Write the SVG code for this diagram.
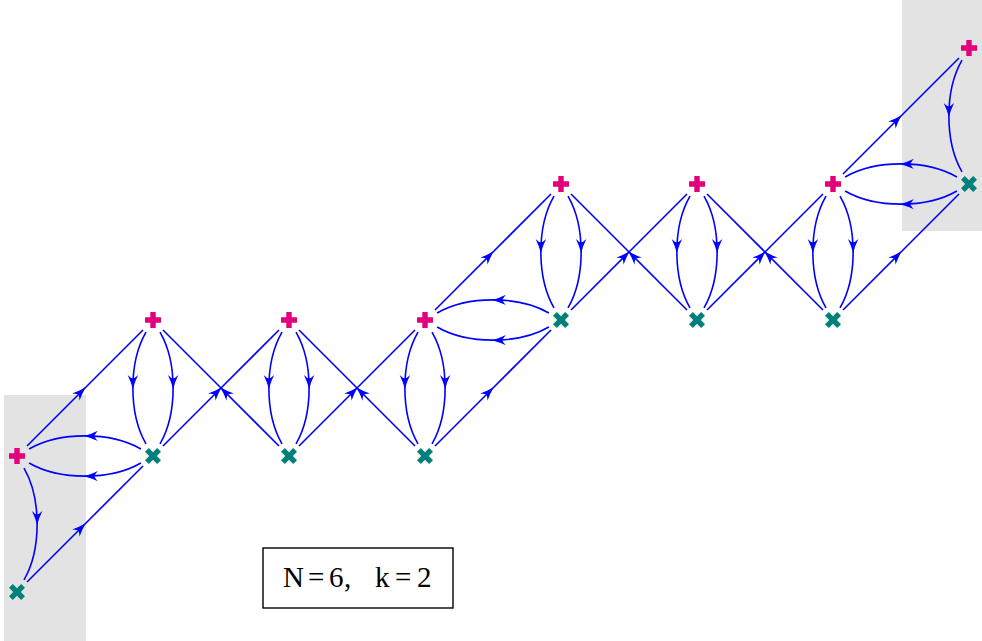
<svg xmlns="http://www.w3.org/2000/svg" xmlns:xlink="http://www.w3.org/1999/xlink" width="982" height="641" viewBox="0 0 982 641">
<style>
.bg{fill:#e3e3e3}
.e{fill:none;stroke:#0000ff;stroke-width:1.6;marker-mid:url(#ah)}
.plus{fill:#e2007d}
.cross{fill:#007f7b}
.box{fill:#fff;stroke:#000;stroke-width:1.4}
.lbl{font-family:"Liberation Serif","DejaVu Serif",serif;font-size:29px;fill:#000}
</style>
<defs>
<marker id="ah" markerUnits="userSpaceOnUse" markerWidth="18" markerHeight="14" viewBox="-15 -7 18 14" refX="0" refY="0" orient="auto" overflow="visible">
<path d="M1,0 Q-6.5,-2 -13,-5.2 Q-9.5,-1.4 -9.5,0 Q-9.5,1.4 -13,5.2 Q-6.5,2 1,0Z" fill="#0000ff"/>
</marker>
<path id="pl" d="M-2.7,-8H2.7V-2.7H8V2.7H2.7V8H-2.7V2.7H-8V-2.7H-2.7Z"/>
<path id="cr" d="M-2.7,-8.6H2.7V-2.7H8.6V2.7H2.7V8.6H-2.7V2.7H-8.6V-2.7H-2.7Z" transform="rotate(45)"/>
</defs>
<rect class="bg" x="4" y="395" width="82" height="246"/>
<rect class="bg" x="902" y="0" width="80" height="231"/>
<g id="connectors">
<path class="e" d="M146,332.1 c -8.75,15.15 -13.125,35.525 -13.125,55.9 c 0,20.375 4.375,40.75 13.125,55.9"/>
<path class="e" d="M282,332.1 c -8.75,15.15 -13.125,35.525 -13.125,55.9 c 0,20.375 4.375,40.75 13.125,55.9"/>
<path class="e" d="M418,332.1 c -8.75,15.15 -13.125,35.525 -13.125,55.9 c 0,20.375 4.375,40.75 13.125,55.9"/>
<path class="e" d="M554,196.1 c -8.75,15.15 -13.125,35.525 -13.125,55.9 c 0,20.375 4.375,40.75 13.125,55.9"/>
<path class="e" d="M690,196.1 c -8.75,15.15 -13.125,35.525 -13.125,55.9 c 0,20.375 4.375,40.75 13.125,55.9"/>
<path class="e" d="M826,196.1 c -8.75,15.15 -13.125,35.525 -13.125,55.9 c 0,20.375 4.375,40.75 13.125,55.9"/>
<path class="e" d="M962,60.1 c -8.75,15.15 -13.125,35.525 -13.125,55.9 c 0,20.375 4.375,40.75 13.125,55.9"/>
<path class="e" d="M160,332.1 c 8.75,15.15 13.125,35.525 13.125,55.9 c 0,20.375 -4.375,40.75 -13.125,55.9"/>
<path class="e" d="M296,332.1 c 8.75,15.15 13.125,35.525 13.125,55.9 c 0,20.375 -4.375,40.75 -13.125,55.9"/>
<path class="e" d="M432,332.1 c 8.75,15.15 13.125,35.525 13.125,55.9 c 0,20.375 -4.375,40.75 -13.125,55.9"/>
<path class="e" d="M568,196.1 c 8.75,15.15 13.125,35.525 13.125,55.9 c 0,20.375 -4.375,40.75 -13.125,55.9"/>
<path class="e" d="M704,196.1 c 8.75,15.15 13.125,35.525 13.125,55.9 c 0,20.375 -4.375,40.75 -13.125,55.9"/>
<path class="e" d="M840,196.1 c 8.75,15.15 13.125,35.525 13.125,55.9 c 0,20.375 -4.375,40.75 -13.125,55.9"/>
<path class="e" d="M24,468.1 c 8.75,15.15 13.125,35.525 13.125,55.9 c 0,20.375 -4.375,40.75 -13.125,55.9"/>
<path class="e" d="M140.9,449 c -15.15,-8.75 -35.525,-13.125 -55.9,-13.125 c -20.375,0 -40.75,4.375 -55.9,13.125"/>
<path class="e" d="M140.9,463 c -15.15,8.75 -35.525,13.125 -55.9,13.125 c -20.375,0 -40.75,-4.375 -55.9,-13.125"/>
<path class="e" d="M548.9,313 c -15.15,-8.75 -35.525,-13.125 -55.9,-13.125 c -20.375,0 -40.75,4.375 -55.9,13.125"/>
<path class="e" d="M548.9,327 c -15.15,8.75 -35.525,13.125 -55.9,13.125 c -20.375,0 -40.75,-4.375 -55.9,-13.125"/>
<path class="e" d="M956.9,177 c -15.15,-8.75 -35.525,-13.125 -55.9,-13.125 c -20.375,0 -40.75,4.375 -55.9,13.125"/>
<path class="e" d="M956.9,191 c -15.15,8.75 -35.525,13.125 -55.9,13.125 c -20.375,0 -40.75,-4.375 -55.9,-13.125"/>
<path class="e" d="M27,446 L85,388 L143,330"/>
<path class="e" d="M27,582 L85,524 L143,466"/>
<path class="e" d="M163,446 L221,388 L279,330"/>
<path class="e" d="M299,446 L357,388 L415,330"/>
<path class="e" d="M435,446 L493,388 L551,330"/>
<path class="e" d="M435,310 L493,252 L551,194"/>
<path class="e" d="M571,310 L629,252 L687,194"/>
<path class="e" d="M707,310 L765,252 L823,194"/>
<path class="e" d="M843,310 L901,252 L959,194"/>
<path class="e" d="M843,174 L901,116 L959,58"/>
<path class="e" d="M279,446 L221,388 L163,330"/>
<path class="e" d="M415,446 L357,388 L299,330"/>
<path class="e" d="M687,310 L629,252 L571,194"/>
<path class="e" d="M823,310 L765,252 L707,194"/>
</g>
<g id="p0" class="plus"><use xlink:href="#pl" x="17" y="456"/></g>
<g id="p1" class="plus"><use xlink:href="#pl" x="153" y="320"/></g>
<g id="p2" class="plus"><use xlink:href="#pl" x="289" y="320"/></g>
<g id="p3" class="plus"><use xlink:href="#pl" x="425" y="320"/></g>
<g id="p4" class="plus"><use xlink:href="#pl" x="561" y="184"/></g>
<g id="p5" class="plus"><use xlink:href="#pl" x="697" y="184"/></g>
<g id="p6" class="plus"><use xlink:href="#pl" x="833" y="184"/></g>
<g id="p7" class="plus"><use xlink:href="#pl" x="969" y="48"/></g>
<g id="c0" class="cross"><use xlink:href="#cr" x="17" y="592"/></g>
<g id="c1" class="cross"><use xlink:href="#cr" x="153" y="456"/></g>
<g id="c2" class="cross"><use xlink:href="#cr" x="289" y="456"/></g>
<g id="c3" class="cross"><use xlink:href="#cr" x="425" y="456"/></g>
<g id="c4" class="cross"><use xlink:href="#cr" x="561" y="320"/></g>
<g id="c5" class="cross"><use xlink:href="#cr" x="697" y="320"/></g>
<g id="c6" class="cross"><use xlink:href="#cr" x="833" y="320"/></g>
<g id="c7" class="cross"><use xlink:href="#cr" x="969" y="184"/></g>
<g id="label">
<rect class="box" x="263" y="548" width="190" height="60"/>
<text class="lbl" x="283 308 329 344 375 395 417" y="587">N=6,k=2</text>
</g>
</svg>
